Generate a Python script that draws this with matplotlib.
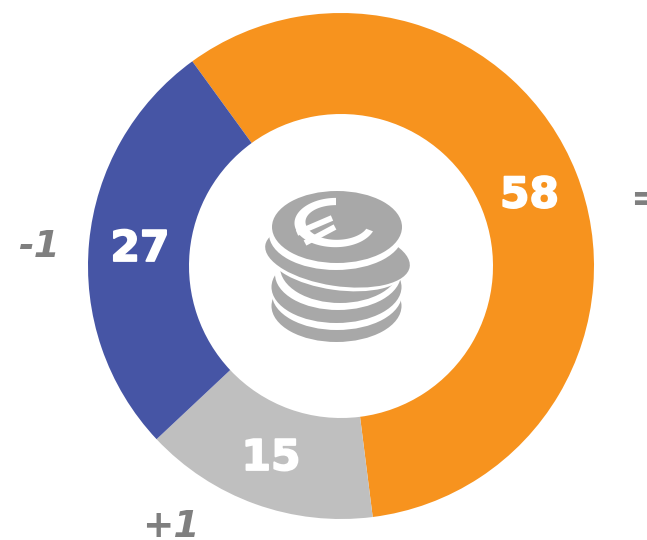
import numpy as np
import matplotlib
matplotlib.use("Agg")
import matplotlib.pyplot as plt
import matplotlib.patheffects as pe
from matplotlib.patches import Ellipse

categories = ["Orange", "Grey", "Blue"]
values = [58, 15, 27]
changes = ["=", "+1", "-1"]
colors = ["#F7931E", "#BFBFBF", "#4655A5"]
COIN = "#A8A8A8"

W, H = 647, 540
fig = plt.figure(figsize=(W / 100, H / 100), dpi=100)
ax = fig.add_axes([0, 0, 1, 1])


def Y(py):
    return H - py


ax.pie(values, colors=colors, startangle=126, counterclock=False,
       center=(341, Y(266)), radius=253, frame=True,
       wedgeprops=dict(width=101, linewidth=0))
ax.set_xlim(0, W)
ax.set_ylim(0, H)
ax.set_aspect("equal")
ax.axis("off")

value_pos = [(529.5, 195.5), (271, 458), (140, 249)]
for v, (x, y) in zip(values, value_pos):
    ax.text(x, Y(y), str(v), color="white", fontsize=30.5, fontweight="bold",
            family="DejaVu Sans", ha="center", va="center",
            path_effects=[pe.Stroke(linewidth=1.3, foreground="white")])

change_pos = [(630, 200), (142, 527), (18, 247)]
for c, (x, y) in zip(changes, change_pos):
    ax.text(x, Y(y), c, color="#7F7F7F", fontsize=27, fontweight="bold",
            style="italic", family="DejaVu Sans", ha="left", va="center",
            clip_on=False)


# Coin-stack icon, expressed in pixel coordinates of the picture
def coin(cx, cy, rx, ry, col, angle=0.0, z=3):
    ax.add_patch(Ellipse((cx, Y(cy)), 2 * rx, 2 * ry, angle=angle,
                         facecolor=col, edgecolor="none", zorder=z))


stack = [
    (336.5, 306, 65, 36, COIN, 0),
    (337, 294, 65, 36, "white", 0),
    (336.5, 287, 65, 36, COIN, 0),
    (338, 274, 63, 36, "white", 0),
    (340, 267, 60, 36, COIN, 0),
    (337, 262, 69, 28, "white", -8),
    (337.5, 256, 73, 30, COIN, -8.6),
    (336, 234, 67, 36, "white", 0),
    (337, 227, 65, 36, COIN, 0),
]
for i, (cx, cy, rx, ry, col, ang) in enumerate(stack):
    coin(cx, cy, rx, ry, col, ang, z=3 + i * 0.01)

# Euro sign on the top coin
t = np.linspace(90, 339, 100)
th = 3.6 + 2.0 * np.exp(-((t - 190) / 45.0) ** 2)
rad = np.radians(t)
cx, cy, rx, ry = 336, 222.5, 36, 21
xo = cx + (rx + th) * np.cos(rad)
yo = Y(cy) + (ry + th) * np.sin(rad)
xi = cx + (rx - th) * np.cos(rad)
yi = Y(cy) + (ry - th) * np.sin(rad)
ax.fill(np.r_[xo, xi[::-1]], np.r_[yo, yi[::-1]], color="white", lw=0, zorder=4)
for (x0, y0, x1, y1) in [(297, 233, 332, 218), (305, 243, 335, 227)]:
    ax.plot([x0, x1], [Y(y0), Y(y1)], color="white", lw=4.2,
            solid_capstyle="butt", zorder=4)

fig.savefig("out.png", dpi=100)
